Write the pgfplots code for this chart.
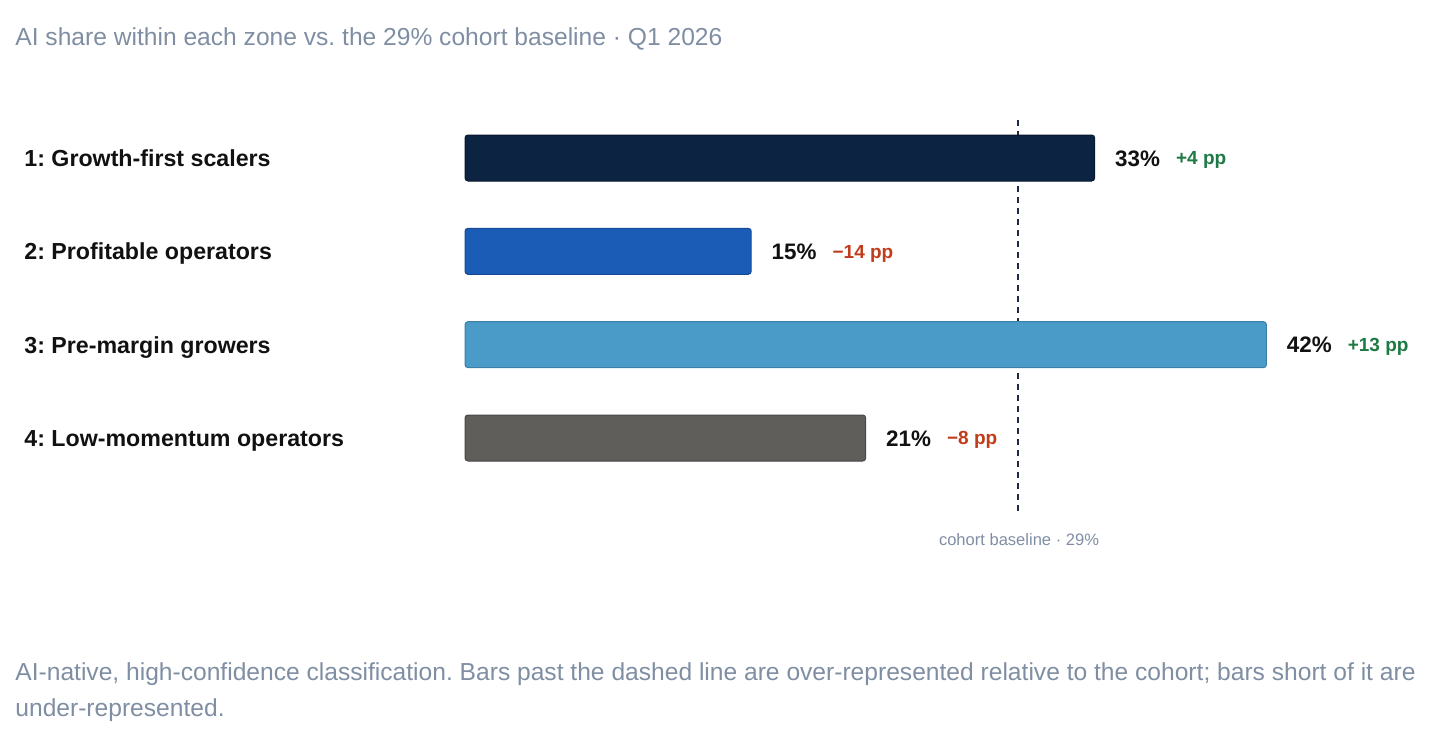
\documentclass[border=0pt]{standalone}
\usepackage{fontspec}
\setmainfont{Liberation Sans}
\usepackage{pgfplots}
\pgfplotsset{compat=1.18}
\definecolor{titlegrey}{HTML}{7F8EA3}
\definecolor{cA}{HTML}{0C2341}
\definecolor{cAd}{HTML}{08182E}
\definecolor{cB}{HTML}{1B5CB6}
\definecolor{cBd}{HTML}{154A94}
\definecolor{cC}{HTML}{4A9BC8}
\definecolor{cCd}{HTML}{3A80A8}
\definecolor{cD}{HTML}{5F5E5A}
\definecolor{cDd}{HTML}{484744}
\definecolor{upgreen}{HTML}{1E7A45}
\definecolor{downred}{HTML}{C23B1A}
\definecolor{navyline}{HTML}{1F2A44}
\definecolor{txt}{HTML}{111111}
\frenchspacing
\begin{document}
\begin{tikzpicture}
\path[use as bounding box] (0,0) rectangle (728pt,-373pt);
\node[anchor=west, inner sep=0, text=titlegrey, font=\fontsize{12.3}{14}\selectfont] at (7.5pt,-19.5pt) {AI share within each zone vs. the 29\% cohort baseline · Q1 2026};
\begin{scope}[every node/.style={anchor=base west, inner sep=0, yshift=-4.2pt, text=txt, font=\bfseries\fontsize{11.6}{14}\selectfont}]
\node at (12pt,-79pt) {1: Growth-first scalers};
\node at (12pt,-125.5pt) {2: Profitable operators};
\node at (12pt,-172.5pt) {3: Pre-margin growers};
\node at (12pt,-219pt) {4: Low-momentum operators};
\end{scope}
\begin{axis}[at={(232.5pt,-60pt)}, anchor=north west, scale only axis,
  width=400.7pt, height=196pt, xmin=0, xmax=42, ymin=-0.407, ymax=3.793,
  y dir=reverse, axis lines=none, clip=false,
  /pgf/number format/assume math mode=true,
  mybar/.style={xbar, bar width=23pt, bar shift=0pt, line width=0.5pt, rounded corners=1.5pt,
    point meta=x, nodes near coords={\pgfmathprintnumber{\pgfplotspointmeta}\%},
    nodes near coords style={anchor=base west, inner sep=0pt, xshift=10pt, yshift=-4pt, text=txt, font=\bfseries\fontsize{11.2}{13}\selectfont}}]
\addplot[navyline, line width=1pt, dash pattern=on 3pt off 2.5pt] coordinates {(29,-0.407) (29,3.793)};
\addplot[mybar, fill=cA, draw=cAd] coordinates {(33,0)};
\addplot[mybar, fill=cB, draw=cBd] coordinates {(15,1)};
\addplot[mybar, fill=cC, draw=cCd] coordinates {(42,2)};
\addplot[mybar, fill=cD, draw=cDd] coordinates {(21,3)};
\begin{scope}[every node/.style={anchor=base west, inner sep=0, xshift=40.5pt, yshift=-3.4pt, font=\bfseries\fontsize{9.5}{11}\selectfont}]
\node[text=upgreen] at (axis cs:33,0) {+4 pp};
\node[text=downred] at (axis cs:15,1) {−14 pp};
\node[text=upgreen] at (axis cs:42,2) {+13 pp};
\node[text=downred] at (axis cs:21,3) {−8 pp};
\end{scope}
\end{axis}
\node[inner sep=0, text=titlegrey, font=\fontsize{8.27}{10}\selectfont] at (509.5pt,-270pt) {cohort baseline · 29\%};
\begin{scope}[every node/.style={anchor=west, inner sep=0, text=titlegrey, font=\fontsize{12.3}{14}\selectfont}]
\node at (7.5pt,-337pt) {AI-native, high-confidence classification. Bars past the dashed line are over-represented relative to the cohort; bars short of it are};
\node at (7.5pt,-355pt) {under-represented.};
\end{scope}
\end{tikzpicture}
\end{document}
